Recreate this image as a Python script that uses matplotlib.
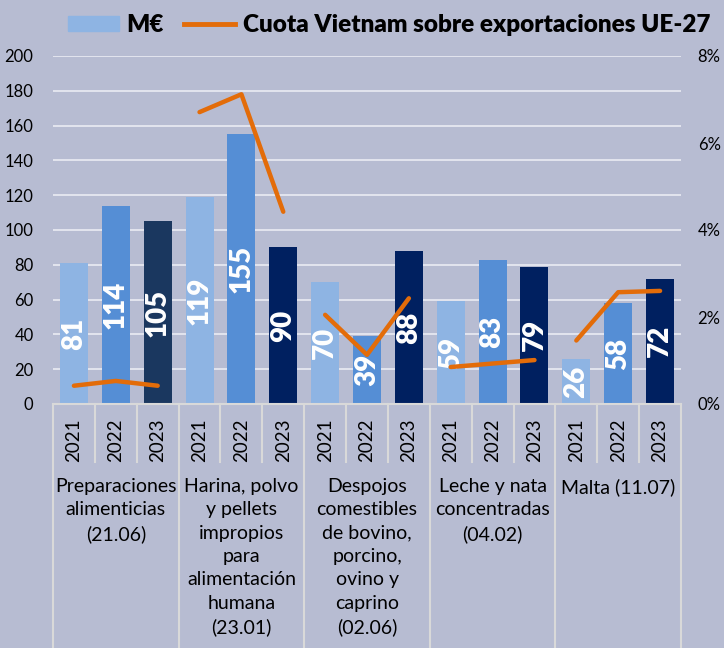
import matplotlib.pyplot as plt
from matplotlib.patches import Patch
from matplotlib.lines import Line2D
from matplotlib.transforms import blended_transform_factory

plt.rcParams['font.family'] = ['Lato', 'DejaVu Sans']

# datos
grupos = ["Preparaciones\nalimenticias\n(21.06)",
          "Harina, polvo\ny pellets\nimpropios\npara\nalimentación\nhumana\n(23.01)",
          "Despojos\ncomestibles\nde bovino,\nporcino,\novino y\ncaprino\n(02.06)",
          "Leche y nata\nconcentradas\n(04.02)",
          "Malta (11.07)"]
anios = ["2021", "2022", "2023"]
valores = [81, 114, 105, 119, 155, 90, 70, 39, 88, 59, 83, 79, 26, 58, 72]
cuota = [0.42, 0.53, 0.42, 6.71, 7.12, 4.42, 2.05, 1.13, 2.43, 0.85, 0.93, 1.01, 1.46, 2.57, 2.60]

fondo = '#B7BCD2'
colores_anio = ['#8EB4E3', '#558ED5', '#002060']
naranja = '#E36C09'

fig = plt.figure(figsize=(7.24, 6.48), dpi=100, facecolor=fondo)
ax = fig.add_axes([53/724, 1-404/648, 628/724, 348/648])
ax.set_facecolor(fondo)

n = len(valores)
x = list(range(n))
colores = [colores_anio[i % 3] for i in range(n)]
colores[2] = '#1A375F'
barras = ax.bar(x, valores, width=0.67, color=colores, zorder=2)
ax.bar_label(barras, labels=[str(v) for v in valores], label_type='center', rotation=90,
             color='white', fontsize=20, fontweight='heavy', zorder=4)

ax.set_xlim(-0.5, n - 0.5)
ax.set_ylim(0, 200)
ax.set_yticks(range(0, 201, 20))
ax.grid(axis='y', color='#E6E8F0', lw=1.3, zorder=0)
ax.tick_params(axis='y', length=0, labelsize=12, pad=14)
ax.set_xticks([])
for s in ['top', 'right', 'left']:
    ax.spines[s].set_visible(False)
ax.spines['bottom'].set_color('#D9D9D9')
ax.spines['bottom'].set_linewidth(1.5)

ax2 = ax.twinx()
ax2.set_ylim(0, 8)
ax2.set_yticks([0, 2, 4, 6, 8])
ax2.set_yticklabels(['0%', '2%', '4%', '6%', '8%'])
ax2.tick_params(axis='y', length=0, labelsize=12, pad=12)
for s in ax2.spines.values():
    s.set_visible(False)
for g in range(len(grupos)):
    ax2.plot(x[g*3:g*3+3], cuota[g*3:g*3+3], color=naranja, lw=3.2,
             solid_capstyle='round', solid_joinstyle='round', zorder=3)

# etiquetas del eje x (dos niveles)
tr = blended_transform_factory(ax.transData, ax.transAxes)
for i in range(n):
    ax.text(i, -0.105, anios[i % 3], rotation=90, ha='center', va='center',
            fontsize=13.5, transform=tr)
for b in range(n + 1):
    bottom = -0.71 if b % 3 == 0 else -0.167
    ax.plot([b - 0.5, b - 0.5], [0, bottom], color='#D9D9D9', lw=1.5,
            transform=tr, clip_on=False)
for g, nombre in enumerate(grupos):
    ax.text(g*3 + 1, -0.213, nombre, ha='center', va='top', fontsize=14,
            linespacing=1.45, transform=tr)

# leyenda
handles = [Patch(color=colores_anio[0]), Line2D([], [], color=naranja, lw=3.5)]
fig.legend(handles, ['M€', 'Cuota Vietnam sobre exportaciones UE-27'],
           loc='upper left', bbox_to_anchor=(46/724, 1.012), ncol=2, frameon=False,
           prop={'weight': 'heavy', 'size': 17.5}, handlelength=2.1, handleheight=0.6,
           handletextpad=0.3, columnspacing=0.85)

fig.savefig('out.png', dpi=100, facecolor=fondo)
